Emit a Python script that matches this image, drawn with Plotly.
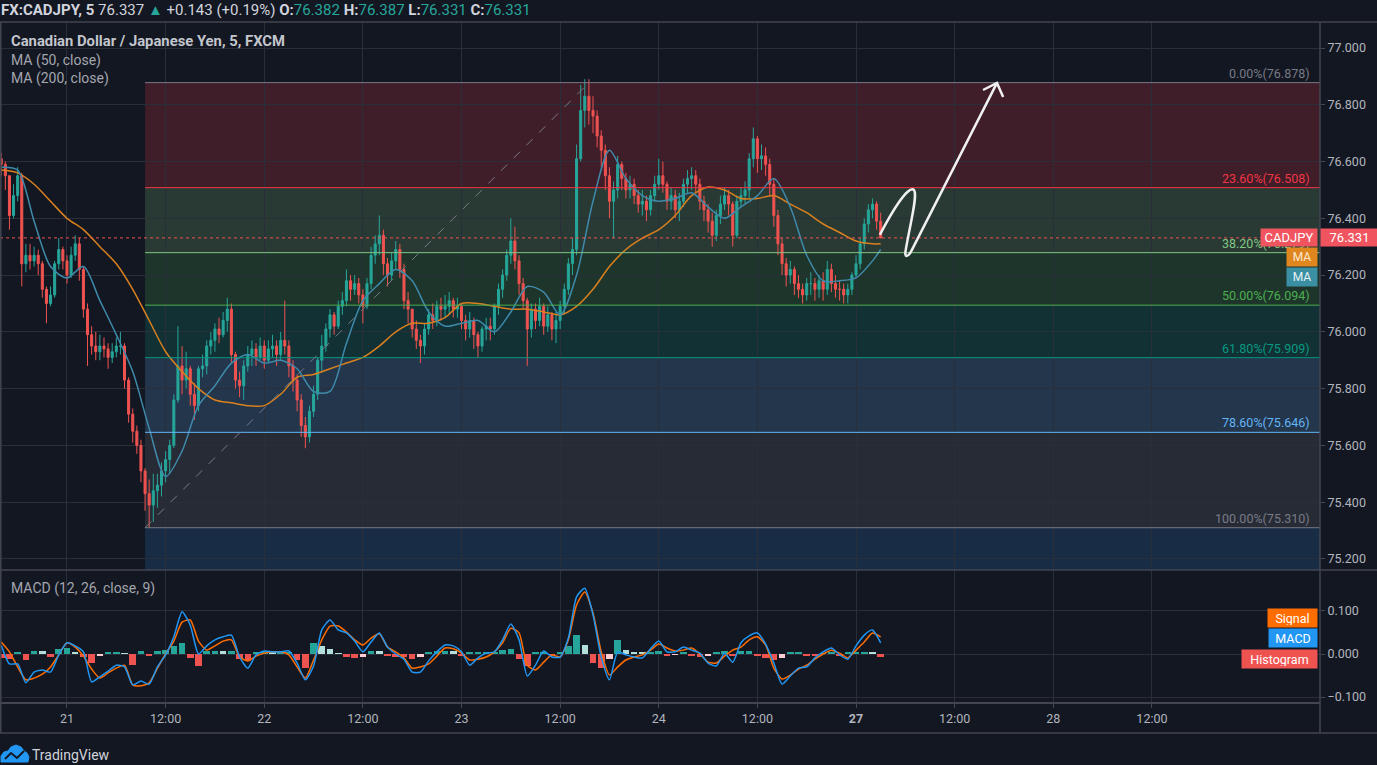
import plotly.graph_objects as go

# ---------------- data (30-min candles) ----------------
first_open = 76.61
close = [76.59, 76.55, 76.41, 76.48, 76.55, 76.24, 76.27, 76.25, 76.27, 76.24,
         76.15, 76.10, 76.13, 76.24, 76.29, 76.25, 76.20, 76.27, 76.31, 76.22,
         76.08, 75.99, 75.95, 75.93, 75.95, 75.94, 75.91, 75.93, 75.95, 75.95,
         75.83, 75.71, 75.65, 75.60, 75.51, 75.43, 75.39, 75.44, 75.46, 75.51,
         75.55, 75.60, 75.76, 75.88, 75.83, 75.87, 75.78, 75.74, 75.87, 75.88,
         75.95, 75.97, 76.01, 75.99, 76.04, 76.08, 75.92, 75.83, 75.81, 75.88,
         75.92, 75.94, 75.91, 75.95, 75.90, 75.94, 75.95, 75.92, 75.97, 75.95,
         75.88, 75.83, 75.76, 75.67, 75.63, 75.72, 75.78, 75.90, 75.95, 76.01,
         76.06, 76.02, 76.09, 76.11, 76.18, 76.15, 76.17, 76.13, 76.09, 76.17,
         76.27, 76.31, 76.34, 76.24, 76.20, 76.25, 76.29, 76.22, 76.11, 76.08,
         76.01, 75.97, 75.95, 76.01, 76.06, 76.04, 76.09, 76.08, 76.09, 76.11,
         76.08, 76.09, 76.04, 76.01, 76.04, 75.99, 75.95, 76.01, 76.02, 76.01,
         76.09, 76.15, 76.20, 76.27, 76.32, 76.25, 76.17, 76.11, 76.01, 76.08,
         76.04, 76.09, 76.02, 76.06, 76.01, 76.04, 76.09, 76.15, 76.24, 76.29,
         76.61, 76.78, 76.83, 76.78, 76.76, 76.69, 76.64, 76.55, 76.46, 76.50,
         76.59, 76.54, 76.50, 76.52, 76.48, 76.45, 76.46, 76.43, 76.48, 76.52,
         76.55, 76.52, 76.46, 76.48, 76.43, 76.46, 76.52, 76.54, 76.55, 76.52,
         76.46, 76.43, 76.39, 76.34, 76.41, 76.45, 76.48, 76.45, 76.34, 76.46,
         76.48, 76.50, 76.61, 76.68, 76.61, 76.62, 76.59, 76.52, 76.41, 76.31,
         76.24, 76.20, 76.22, 76.17, 76.15, 76.13, 76.17, 76.17, 76.15, 76.18,
         76.15, 76.22, 76.17, 76.15, 76.15, 76.13, 76.15, 76.20, 76.24, 76.31,
         76.38, 76.43, 76.45, 76.39, 76.331]
high = [76.63, 76.60, 76.55, 76.52, 76.58, 76.56, 76.31, 76.31, 76.30, 76.29,
        76.25, 76.16, 76.16, 76.25, 76.33, 76.30, 76.27, 76.30, 76.34, 76.33,
        76.23, 76.10, 76.02, 76.00, 75.99, 75.98, 75.96, 75.96, 75.98, 76.00,
        75.96, 75.84, 75.73, 75.67, 75.62, 75.52, 75.48, 75.50, 75.50, 75.54,
        75.58, 75.62, 75.78, 76.02, 75.95, 75.93, 75.88, 75.82, 75.88, 75.92,
        75.97, 76.00, 76.03, 76.05, 76.07, 76.12, 76.10, 75.93, 75.86, 75.90,
        75.95, 75.97, 75.96, 75.98, 75.97, 75.97, 75.99, 75.97, 76.00, 76.11,
        75.97, 75.90, 75.85, 75.78, 75.70, 75.74, 75.81, 75.91, 75.99, 76.03,
        76.08, 76.07, 76.11, 76.14, 76.22, 76.20, 76.20, 76.19, 76.15, 76.19,
        76.30, 76.34, 76.41, 76.36, 76.26, 76.28, 76.32, 76.31, 76.24, 76.14,
        76.08, 76.04, 75.99, 76.03, 76.08, 76.10, 76.11, 76.12, 76.13, 76.14,
        76.12, 76.12, 76.10, 76.06, 76.07, 76.05, 76.00, 76.02, 76.05, 76.05,
        76.10, 76.17, 76.22, 76.29, 76.40, 76.37, 76.27, 76.19, 76.12, 76.10,
        76.10, 76.12, 76.10, 76.09, 76.07, 76.07, 76.11, 76.17, 76.26, 76.33,
        76.66, 76.87, 76.89, 76.89, 76.83, 76.78, 76.71, 76.66, 76.58, 76.53,
        76.62, 76.60, 76.56, 76.55, 76.54, 76.50, 76.50, 76.48, 76.50, 76.55,
        76.61, 76.60, 76.53, 76.51, 76.50, 76.49, 76.54, 76.57, 76.58, 76.57,
        76.54, 76.48, 76.45, 76.42, 76.43, 76.48, 76.51, 76.50, 76.46, 76.48,
        76.51, 76.53, 76.63, 76.72, 76.69, 76.66, 76.65, 76.61, 76.54, 76.43,
        76.33, 76.26, 76.25, 76.23, 76.20, 76.17, 76.19, 76.21, 76.19, 76.20,
        76.21, 76.25, 76.24, 76.20, 76.18, 76.17, 76.17, 76.21, 76.27, 76.33,
        76.40, 76.45, 76.47, 76.46, 76.42]
low = [76.55, 76.50, 76.36, 76.40, 76.46, 76.16, 76.21, 76.22, 76.23, 76.20,
       76.12, 76.03, 76.09, 76.12, 76.22, 76.22, 76.17, 76.19, 76.25, 76.18,
       76.05, 75.88, 75.92, 75.90, 75.90, 75.91, 75.87, 75.89, 75.91, 75.92,
       75.80, 75.68, 75.61, 75.57, 75.47, 75.37, 75.31, 75.33, 75.38, 75.42,
       75.47, 75.50, 75.59, 75.75, 75.78, 75.80, 75.74, 75.69, 75.72, 75.84,
       75.85, 75.92, 75.93, 75.96, 75.98, 76.00, 75.89, 75.80, 75.77, 75.76,
       75.86, 75.88, 75.88, 75.90, 75.87, 75.89, 75.91, 75.88, 75.90, 75.92,
       75.84, 75.79, 75.72, 75.63, 75.59, 75.61, 75.70, 75.76, 75.86, 75.93,
       75.98, 75.99, 76.01, 76.06, 76.09, 76.11, 76.13, 76.10, 76.03, 76.08,
       76.15, 76.24, 76.27, 76.20, 76.16, 76.18, 76.22, 76.19, 76.08, 76.03,
       75.98, 75.94, 75.89, 75.92, 75.99, 76.01, 76.02, 76.04, 76.05, 76.06,
       76.05, 76.05, 76.01, 75.97, 75.98, 75.94, 75.91, 75.93, 75.97, 75.97,
       75.99, 76.06, 76.12, 76.18, 76.24, 76.22, 76.13, 76.08, 75.88, 75.98,
       76.01, 76.02, 75.99, 76.00, 75.97, 75.96, 76.01, 76.06, 76.13, 76.20,
       76.27, 76.60, 76.72, 76.73, 76.70, 76.65, 76.58, 76.50, 76.40, 76.33,
       76.47, 76.50, 76.47, 76.47, 76.45, 76.42, 76.41, 76.39, 76.41, 76.46,
       76.50, 76.49, 76.43, 76.43, 76.40, 76.39, 76.44, 76.49, 76.50, 76.49,
       76.43, 76.39, 76.35, 76.30, 76.32, 76.38, 76.43, 76.41, 76.30, 76.33,
       76.44, 76.45, 76.47, 76.58, 76.56, 76.57, 76.55, 76.48, 76.37, 76.27,
       76.20, 76.16, 76.17, 76.13, 76.12, 76.10, 76.11, 76.13, 76.11, 76.12,
       76.11, 76.13, 76.14, 76.12, 76.11, 76.10, 76.10, 76.13, 76.19, 76.22,
       76.29, 76.35, 76.40, 76.36, 76.33]

# moving averages, read every 4th candle (+ last)
ma50 = [76.58, 76.57, 76.39, 76.23, 76.19, 76.23, 76.11, 75.99, 75.86, 75.66,
        75.49, 75.58, 75.74, 75.81, 75.89, 75.92, 75.89, 75.90, 75.87, 75.79,
        75.79, 75.96, 76.11, 76.17, 76.22, 76.18, 76.07, 76.02, 76.03, 76.04,
        76.00, 76.07, 76.16, 76.14, 76.06, 76.20, 76.46, 76.64, 76.54, 76.48,
        76.46, 76.47, 76.49, 76.44, 76.40, 76.44, 76.48, 76.54, 76.44, 76.27,
        76.18, 76.18, 76.19, 76.25, 76.29]
ma200 = [76.57, 76.56, 76.52, 76.46, 76.40, 76.36, 76.30, 76.24, 76.15, 76.04,
         75.93, 75.86, 75.80, 75.76, 75.75, 75.74, 75.74, 75.78, 75.84, 75.85,
         75.87, 75.89, 75.91, 75.95, 76.00, 76.03, 76.03, 76.05, 76.10, 76.10,
         76.09, 76.08, 76.08, 76.07, 76.06, 76.09, 76.15, 76.23, 76.29, 76.33,
         76.36, 76.41, 76.48, 76.51, 76.50, 76.47, 76.47, 76.48, 76.45, 76.42,
         76.38, 76.35, 76.32, 76.31, 76.31]

# MACD pane, read every 2nd candle
macd = [0.021, -0.023, -0.023, -0.067, -0.042, -0.037, -0.042, -0.002, 0.026, 0.019,
        0.005, -0.065, -0.053, -0.040, -0.026, -0.030, -0.072, -0.063, -0.070, -0.030,
        -0.002, 0.040, 0.098, 0.067, 0.000, 0.019, 0.033, 0.040, 0.044, -0.007,
        -0.033, -0.002, 0.007, 0.005, 0.005, 0.007, -0.021, -0.060, -0.028, 0.056,
        0.079, 0.056, 0.049, 0.030, 0.005, 0.028, 0.049, 0.016, 0.000, -0.012,
        -0.042, -0.042, -0.016, 0.005, 0.021, 0.019, 0.005, -0.026, -0.009, 0.002,
        0.005, 0.033, 0.070, 0.033, -0.051, -0.026, 0.007, -0.007, -0.007, 0.037,
        0.133, 0.153, 0.091, -0.007, -0.060, 0.005, -0.002, -0.007, -0.009, 0.012,
        0.030, 0.005, 0.005, 0.016, 0.009, 0.002, -0.021, -0.028, 0.002, -0.019,
        0.026, 0.042, 0.049, 0.023, -0.021, -0.070, -0.051, -0.033, -0.030, -0.009,
        0.005, 0.014, -0.002, -0.012, 0.019, 0.044, 0.056, 0.026]
signal = [0.028, 0.005, -0.030, -0.060, -0.056, -0.047, -0.030, -0.002, 0.026, 0.016,
          -0.005, -0.035, -0.056, -0.044, -0.033, -0.026, -0.072, -0.074, -0.067, -0.033,
          0.000, 0.030, 0.074, 0.079, 0.030, 0.009, 0.019, 0.030, 0.033, -0.007,
          -0.016, -0.005, 0.002, 0.005, 0.005, -0.002, -0.030, -0.056, -0.014, 0.033,
          0.065, 0.065, 0.051, 0.033, 0.021, 0.037, 0.047, 0.016, 0.005, -0.009,
          -0.033, -0.030, -0.023, -0.005, 0.014, 0.012, 0.002, -0.014, -0.012, -0.007,
          0.005, 0.026, 0.060, 0.049, -0.026, -0.037, -0.019, -0.002, -0.007, 0.033,
          0.114, 0.144, 0.095, 0.005, -0.049, -0.030, -0.014, -0.007, -0.002, 0.009,
          0.023, 0.014, 0.007, 0.009, 0.014, 0.000, -0.019, -0.021, -0.005, 0.009,
          0.016, 0.033, 0.040, 0.021, -0.033, -0.058, -0.049, -0.035, -0.026, -0.012,
          0.000, 0.009, 0.002, -0.009, 0.009, 0.028, 0.049, 0.040]
hist = [-0.010, -0.012, 0.004, -0.015, 0.008, 0.006, -0.008, 0.012, 0.014, 0.004,
        -0.008, -0.022, -0.004, 0.003, 0.004, 0.002, -0.025, 0.006, -0.004, 0.008,
        0.010, 0.018, 0.026, -0.010, -0.028, 0.006, 0.008, 0.006, 0.008, -0.012,
        -0.016, 0.004, 0.004, 0.003, 0.004, 0.004, -0.014, -0.032, 0.026, 0.018,
        0.012, 0.002, -0.008, -0.010, -0.006, 0.008, 0.006, -0.004, -0.006, -0.008,
        -0.012, -0.008, 0.004, 0.007, 0.008, 0.006, -0.004, 0.003, 0.003, 0.004,
        0.004, 0.010, 0.012, -0.012, -0.028, 0.004, 0.005, -0.004, 0.003, 0.018,
        0.045, 0.022, -0.020, -0.032, -0.012, 0.032, 0.010, 0.004, 0.003, 0.004,
        0.006, -0.005, -0.002, 0.005, -0.004, -0.006, -0.005, 0.003, 0.006, -0.004,
        0.008, 0.008, -0.004, -0.010, -0.014, -0.010, 0.004, 0.004, -0.003, -0.004,
        0.002, 0.003, -0.003, 0.003, 0.005, 0.005, 0.004, -0.008]

# axis ticks (candle index of each label)
tick_idx = [16, 40, 64, 88, 112, 136, 160, 184, 208, 232, 256, 280]
tick_txt = ["21", "12:00", "22", "12:00", "23", "12:00", "24", "12:00",
            "<b>27</b>", "12:00", "28", "12:00"]

# Fibonacci retracement (anchored swing low bar -> swing high bar)
fib_low_bar, fib_high_bar = 35, 143
fib_names = ["0.00%", "23.60%", "38.20%", "50.00%", "61.80%", "78.60%", "100.00%"]
fib_prices = [76.878, 76.508, 76.279, 76.094, 75.909, 75.646, 75.310]
fib_colors = ["#787b86", "#f23645", "#81c784", "#4caf50", "#089981", "#64b5f6", "#787b86"]
last_price = 76.331

# hand-drawn arrow (candle index, price)
arrow_pts = [(213.8, 76.342), (216.7, 76.422), (220.6, 76.517), (222.1, 76.500),
             (223.1, 76.482), (221.1, 76.377), (220.1, 76.289), (219.7, 76.260),
             (220.6, 76.260), (221.6, 76.289), (242.3, 76.877)]
arrow_head = [(238.9, 76.852), (242.3, 76.877), (243.8, 76.827)]

# ---------------- style ----------------
BG = "#131722"
GRID = "#2a2e39"
FRAME = "#434651"
TXT = "#b2b5be"
FONT = "Roboto"
UP, DOWN = "#26a69a", "#ef5350"
X_RANGE = [-0.3, 320.9]
Y_RANGE = [75.161, 77.0916]
Y2_RANGE = [-0.1116, 0.1953]
PLOT_W, PLOT_TOP, PLOT_BOT = 1320.0, 22.0, 702.0
PLOT_H = PLOT_BOT - PLOT_TOP
MACD_FRAC = 132.0 / PLOT_H


def px(X):
    return X / PLOT_W


def py(Y):
    return (PLOT_BOT - Y) / PLOT_H


idx = list(range(len(close)))
opens = [first_open] + close[:-1]
ma_idx = idx[::4] + [idx[-1]]
m_idx = idx[::2]

fig = go.Figure()

fig.add_trace(go.Candlestick(
    x=idx, open=opens, high=high, low=low, close=close,
    increasing=dict(line=dict(color=UP, width=1), fillcolor=UP),
    decreasing=dict(line=dict(color=DOWN, width=1), fillcolor=DOWN),
    whiskerwidth=0, xaxis="x", yaxis="y", hoverinfo="skip"))

fig.add_trace(go.Scatter(x=ma_idx, y=ma200, mode="lines", line=dict(color="#d9801f", width=1.5, shape="spline", smoothing=0.8),
                         xaxis="x", yaxis="y", hoverinfo="skip"))
fig.add_trace(go.Scatter(x=ma_idx, y=ma50, mode="lines", line=dict(color="#3f8aab", width=1.5, shape="spline", smoothing=0.8),
                         xaxis="x", yaxis="y", hoverinfo="skip"))

hist_colors = []
prev = 0.0
for v in hist:
    if v >= 0:
        hist_colors.append("#26a69a" if v >= prev else "#b2dfdb")
    else:
        hist_colors.append("#ef5350" if v <= prev else "#ffcdd2")
    prev = v

fig.add_trace(go.Bar(x=m_idx, y=hist, marker=dict(color=hist_colors, line=dict(width=0)), width=1.6,
                     xaxis="x", yaxis="y2", hoverinfo="skip"))
fig.add_trace(go.Scatter(x=m_idx, y=signal, mode="lines", line=dict(color="#ff6d00", width=1.5, shape="spline", smoothing=0.6),
                         xaxis="x", yaxis="y2", hoverinfo="skip"))
fig.add_trace(go.Scatter(x=m_idx, y=macd, mode="lines", line=dict(color="#2196f3", width=1.5, shape="spline", smoothing=0.6),
                         xaxis="x", yaxis="y2", hoverinfo="skip"))


def rgba(hexc, a):
    h = hexc.lstrip("#")
    return "rgba(%d,%d,%d,%.2f)" % (int(h[0:2], 16), int(h[2:4], 16), int(h[4:6], 16), a)


shapes = []
# fib zones
for i in range(1, len(fib_prices)):
    shapes.append(dict(type="rect", xref="x", yref="y", x0=fib_low_bar, x1=X_RANGE[1],
                       y0=fib_prices[i], y1=fib_prices[i - 1], fillcolor=rgba(fib_colors[i], 0.2),
                       line=dict(width=0), layer="below"))
shapes.append(dict(type="rect", xref="x", yref="y", x0=fib_low_bar, x1=X_RANGE[1],
                   y0=Y_RANGE[0], y1=fib_prices[-1], fillcolor="rgb(24,44,70)",
                   line=dict(width=0), layer="below"))
# fib lines
for p, c in zip(fib_prices, fib_colors):
    shapes.append(dict(type="line", xref="x", yref="y", x0=fib_low_bar, x1=X_RANGE[1], y0=p, y1=p,
                       line=dict(color=c, width=1), layer="above"))
# trend line
shapes.append(dict(type="line", xref="x", yref="y", x0=fib_low_bar, x1=fib_high_bar,
                   y0=fib_prices[-1], y1=fib_prices[0], line=dict(color="#787b86", width=1, dash="dash")))
# last price dotted line
shapes.append(dict(type="line", xref="paper", yref="y", x0=0, x1=1, y0=last_price, y1=last_price,
                   line=dict(color="#ef5350", width=1, dash="dot")))
# arrow
path = "M %.2f,%.4f" % arrow_pts[0]
path += " C %.2f,%.4f %.2f,%.4f %.2f,%.4f" % (arrow_pts[1] + arrow_pts[2] + arrow_pts[3])
path += " C %.2f,%.4f %.2f,%.4f %.2f,%.4f" % (arrow_pts[4] + arrow_pts[5] + arrow_pts[6])
path += " C %.2f,%.4f %.2f,%.4f %.2f,%.4f" % (arrow_pts[7] + arrow_pts[8] + arrow_pts[9])
path += " L %.2f,%.4f" % arrow_pts[10]
shapes.append(dict(type="path", xref="x", yref="y", path=path, line=dict(color="#f0f0f0", width=2.5)))
hp = "M %.2f,%.4f L %.2f,%.4f L %.2f,%.4f" % (arrow_head[0] + arrow_head[1] + arrow_head[2])
shapes.append(dict(type="path", xref="x", yref="y", path=hp, line=dict(color="#f0f0f0", width=2.5)))

# frame lines
full_w = 1377.0 / PLOT_W
for Y in (PLOT_TOP, 570.0, 733.0):
    shapes.append(dict(type="line", xref="paper", yref="paper", x0=0, x1=full_w, y0=py(Y), y1=py(Y),
                       line=dict(color=FRAME, width=1.5)))
shapes.append(dict(type="line", xref="paper", yref="paper", x0=1, x1=1, y0=py(733), y1=py(PLOT_TOP),
                   line=dict(color=FRAME, width=1.5)))
shapes.append(dict(type="line", xref="paper", yref="paper", x0=px(0.8), x1=px(0.8), y0=py(733), y1=py(PLOT_TOP),
                   line=dict(color=FRAME, width=1.5)))

# TradingView logo (simple cloud glyph)
logo = [(1, 762), (1, 756), (4, 752), (8, 751), (11, 747), (16, 745), (21, 747), (24, 751),
        (27, 753), (29, 757), (28, 762)]
lp = "M " + " L ".join("%.5f,%.5f" % (px(a), py(b)) for a, b in logo) + " Z"
shapes.append(dict(type="path", xref="paper", yref="paper", path=lp, fillcolor="#2196f3",
                   line=dict(color="#2196f3", width=1)))
lz = [(5, 759), (11, 753), (17, 758), (24, 751)]
lzp = "M " + " L ".join("%.5f,%.5f" % (px(a), py(b)) for a, b in lz)
shapes.append(dict(type="path", xref="paper", yref="paper", path=lzp, line=dict(color="#131722", width=2)))

ann = []
T = "#26a69a"
header = ('<b>FX:CADJPY, 5</b> 76.337 <span style="color:%s">▲</span> +0.143 (+0.19%%) '
          '<b>O:</b><span style="color:%s">76.382</span> <b>H:</b><span style="color:%s">76.387</span> '
          '<b>L:</b><span style="color:%s">76.331</span> <b>C:</b><span style="color:%s">76.331</span>') % (T, T, T, T, T)
ann.append(dict(text=header, xref="paper", yref="paper", x=0, y=py(10), xanchor="left", yanchor="middle",
                showarrow=False, font=dict(family=FONT, size=15, color="#d1d4dc"), borderpad=0))
ann.append(dict(text="<b>Canadian Dollar / Japanese Yen, 5, FXCM</b>", xref="paper", yref="paper",
                x=px(9), y=py(41), xanchor="left", yanchor="middle", showarrow=False,
                font=dict(family=FONT, size=14.8, color="#c3c6cd")))
ann.append(dict(text="MA (50, close)", xref="paper", yref="paper", x=px(9), y=py(60), xanchor="left",
                yanchor="middle", showarrow=False, font=dict(family=FONT, size=14, color="#a3a6af")))
ann.append(dict(text="MA (200, close)", xref="paper", yref="paper", x=px(9), y=py(78), xanchor="left",
                yanchor="middle", showarrow=False, font=dict(family=FONT, size=14, color="#a3a6af")))
ann.append(dict(text="MACD (12, 26, close, 9)", xref="paper", yref="paper", x=px(9), y=py(588),
                xanchor="left", yanchor="middle", showarrow=False,
                font=dict(family=FONT, size=14, color="#a3a6af")))

for name, p, c in zip(fib_names, fib_prices, fib_colors):
    ann.append(dict(text="%s(%.3f)" % (name, p), xref="paper", yref="y", x=px(1312), y=p,
                    xanchor="right", yanchor="bottom", showarrow=False, yshift=0,
                    font=dict(family=FONT, size=12.5, color=c)))

ann.append(dict(text="CADJPY", xref="paper", yref="y", x=px(1318), y=last_price, xanchor="right",
                yanchor="middle", showarrow=False, bgcolor="#f0555f", borderpad=2, width=52, height=13,
                font=dict(family=FONT, size=13, color="#ffffff")))
ann.append(dict(text="76.331", xref="paper", yref="y", x=1, y=last_price, xanchor="left",
                yanchor="middle", showarrow=False, bgcolor="#f0555f", borderpad=2, width=53, height=13,
                font=dict(family=FONT, size=13, color="#ffffff")))
ann.append(dict(text="MA", xref="paper", yref="paper", x=px(1318), y=py(257), xanchor="right",
                yanchor="middle", showarrow=False, bgcolor="#e0861f", borderpad=2, width=26, height=14,
                font=dict(family=FONT, size=12, color="#fbe9d0")))
ann.append(dict(text="MA", xref="paper", yref="paper", x=px(1318), y=py(277), xanchor="right",
                yanchor="middle", showarrow=False, bgcolor="#3a8fa3", borderpad=2, width=26, height=14,
                font=dict(family=FONT, size=12, color="#e6f3f5")))
for txt, Y, col, w in (("Signal", 618, "#ff6d00", 45), ("MACD", 638, "#2196f3", 44), ("Histogram", 659, "#ef5350", 71)):
    ann.append(dict(text=txt, xref="paper", yref="paper", x=px(1318), y=py(Y), xanchor="right",
                    yanchor="middle", showarrow=False, bgcolor=col, borderpad=2, width=w, height=14,
                    font=dict(family=FONT, size=12.5, color="#ffffff")))
ann.append(dict(text="TradingView", xref="paper", yref="paper", x=px(30), y=py(755), xanchor="left",
                yanchor="middle", showarrow=False, font=dict(family=FONT, size=14, color="#d1d4dc")))

axis_font = dict(family=FONT, size=12.5, color=TXT)
fig.update_layout(
    width=1377, height=765,
    margin=dict(l=0, r=57, t=22, b=63),
    paper_bgcolor=BG, plot_bgcolor=BG,
    showlegend=False, bargap=0,
    shapes=shapes, annotations=ann,
    xaxis=dict(domain=[0, 1], anchor="y2", range=X_RANGE, tickmode="array", tickvals=tick_idx,
               ticktext=tick_txt, showgrid=True, gridcolor=GRID, gridwidth=1, zeroline=False,
               showline=True, linecolor=FRAME, linewidth=1.5, ticks="outside", ticklen=4,
               tickcolor=FRAME, tickfont=axis_font, rangeslider=dict(visible=False)),
    yaxis=dict(domain=[MACD_FRAC, 1], anchor="x", side="right", range=Y_RANGE, tick0=75.2, dtick=0.2,
               tickformat=".3f", showgrid=True, gridcolor=GRID, zeroline=False, showline=False,
               ticks="outside", ticklen=4, tickcolor=FRAME, tickfont=axis_font),
    yaxis2=dict(domain=[0, MACD_FRAC], anchor="x", side="right", range=Y2_RANGE, tickmode="array",
                tickvals=[-0.1, 0, 0.1], tickformat=".3f", showgrid=True, gridcolor=GRID,
                zeroline=False, showline=False, ticks="outside", ticklen=4, tickcolor=FRAME,
                tickfont=axis_font),
)

fig.write_html("out.html", config={"displayModeBar": False},
               post_script="document.body.style.margin='0px';document.body.style.overflow='hidden';"
                           "document.body.style.background='#131722';")
